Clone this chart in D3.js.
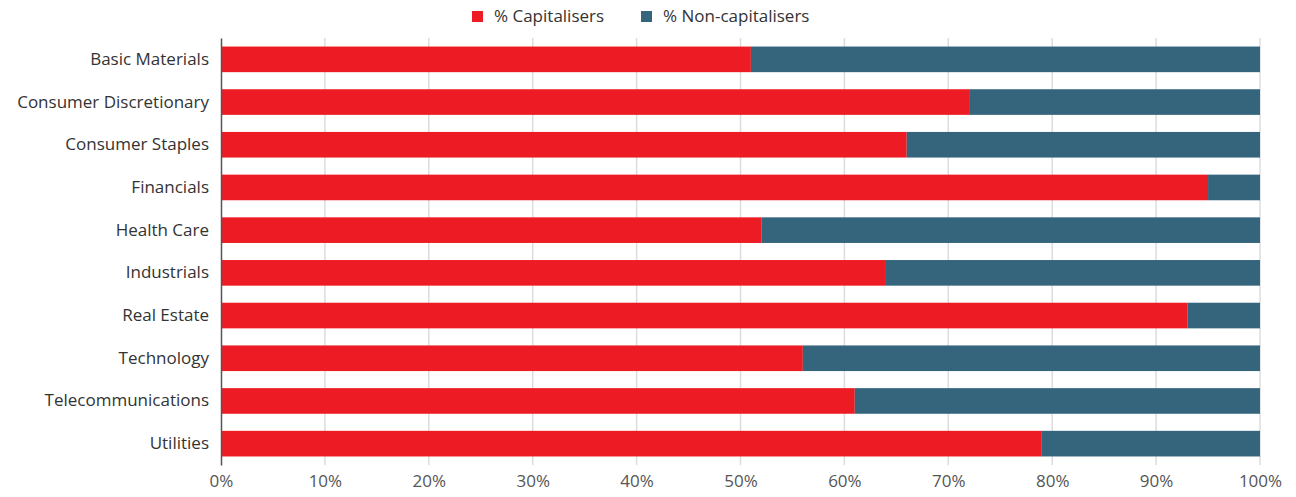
<!DOCTYPE html>
<html><head><meta charset="utf-8">
<script src="https://cdn.jsdelivr.net/npm/d3@7"></script>
<style>body{margin:0;background:#fff;}svg{display:block;font-family:"Open Sans",sans-serif;}</style>
</head><body><svg id="c" width="1296" height="497"></svg>
<script>
const categories = ["Basic Materials","Consumer Discretionary","Consumer Staples","Financials","Health Care","Industrials","Real Estate","Technology","Telecommunications","Utilities"];
const capitalisers = [51,72,66,95,52,64,93,56,61,79];
const nonCapitalisers = [49,28,34,5,48,36,7,44,39,21];
const seriesNames = ["% Capitalisers","% Non-capitalisers"];
const tickValues = [0,10,20,30,40,50,60,70,80,90,100];

const colors = ["#ED1C24","#35647D"];
const FONT = "'Open Sans',sans-serif";
const svg = d3.select("#c");
const m = {l:221, r:1260, t:38, b:465};
const x = d3.scaleLinear().domain([0,100]).range([m.l, m.r]);
const y = d3.scaleBand().domain(categories).range([m.t, m.b]).paddingInner(0.4).paddingOuter(0.2);

// grid
svg.append("g").selectAll("line").data(tickValues.slice(1)).join("line")
  .attr("x1",d=>x(d)).attr("x2",d=>x(d)).attr("y1",m.t).attr("y2",m.b)
  .attr("stroke","#dcdcdc").attr("stroke-width",1.5);

const rows = categories.map((c,i)=>({c, a:capitalisers[i], b:nonCapitalisers[i]}));
const g = svg.append("g");
g.selectAll("rect.a").data(rows).join("rect").attr("class","a")
  .attr("x",x(0)).attr("y",d=>y(d.c)).attr("width",d=>x(d.a)-x(0)).attr("height",y.bandwidth()).attr("fill",colors[0]);
g.selectAll("rect.b").data(rows).join("rect").attr("class","b")
  .attr("x",d=>x(d.a)).attr("y",d=>y(d.c)).attr("width",d=>x(d.a+d.b)-x(d.a)).attr("height",y.bandwidth()).attr("fill",colors[1]);

// x axis
const xa = svg.append("g").attr("transform",`translate(0,${m.b})`)
  .call(d3.axisBottom(x).tickValues(tickValues).tickFormat(d=>d+"%").tickSize(0).tickPadding(10));
xa.select(".domain").remove();
xa.selectAll("text").attr("font-size",17).attr("fill","#555").attr("font-family",FONT);

// y axis
const ya = svg.append("g").attr("transform",`translate(${m.l},0)`)
  .call(d3.axisLeft(y).tickSize(0).tickPadding(12));
ya.select(".domain").attr("stroke","#555").attr("stroke-width",1.5);
ya.selectAll("text").attr("font-size",17).attr("fill","#333").attr("font-family",FONT);

// legend
const lg = svg.append("g");
const lx = [472, 641];
seriesNames.forEach((s,i)=>{
  lg.append("rect").attr("x",lx[i]).attr("y",11).attr("width",11).attr("height",11).attr("fill",colors[i]);
  lg.append("text").attr("x",lx[i]+22).attr("y",16.5).attr("dy","0.35em").attr("font-size",17).attr("fill","#333").attr("font-family",FONT).text(s);
});
</script></body></html>
